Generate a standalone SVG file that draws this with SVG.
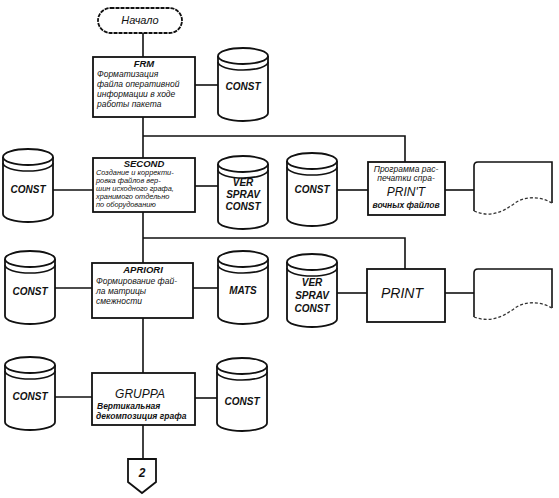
<svg xmlns="http://www.w3.org/2000/svg" xmlns:xlink="http://www.w3.org/1999/xlink" width="559" height="498" viewBox="0 0 559 498">
<style>
  .ln{fill:none;stroke:#111;stroke-width:1.6}
  .bx{fill:#fff;stroke:#111;stroke-width:1.8}
  .t{font-family:"Liberation Sans",Arial,sans-serif;font-style:italic;fill:#111}
  .s{font-size:8.5px}
  .ss{font-size:7.4px}
  .h{font-size:9.5px;font-weight:bold}
  .c{font-size:10px;font-weight:bold;text-anchor:middle}
  .m{text-anchor:middle}
  .dash{fill:none;stroke:#333;stroke-width:1.3;stroke-dasharray:3 2}
</style>
<defs>
  <g id="cyl">
    <path class="bx" d="M0,9 V66 A25,8 0 0 0 50,66 V9"/>
    <ellipse class="bx" cx="25" cy="9" rx="25" ry="8"/>
    <path class="ln" d="M0,15 A25,8 0 0 0 50,15"/>
  </g>
</defs>
<rect width="559" height="498" fill="#fff"/>
<g id="connectors">
  <path class="ln" d="M143,33 V57"/>
  <path class="ln" d="M195,85 H218"/>
  <path class="ln" d="M143,117 V158"/>
  <path class="ln" d="M143,136 H405 V162"/>
  <path class="ln" d="M53,190 H93"/>
  <path class="ln" d="M195,186 H218"/>
  <path class="ln" d="M337,190 H368"/>
  <path class="ln" d="M445,190 H474"/>
  <path class="ln" d="M143,212 V263"/>
  <path class="ln" d="M143,238 H405 V269"/>
  <path class="ln" d="M55,288 H92"/>
  <path class="ln" d="M193,288 H218"/>
  <path class="ln" d="M337,293 H367"/>
  <path class="ln" d="M445,293 H474"/>
  <path class="ln" d="M143,318 V373"/>
  <path class="ln" d="M55,397 H92"/>
  <path class="ln" d="M195,398 H217"/>
  <path class="ln" d="M143,425 V459"/>
</g>
<g id="start">
  <rect class="bx" x="98" y="8" width="84" height="25" rx="12.5" stroke-dasharray="4 1"/>
  <text class="t m" x="140" y="24" font-size="11">Начало</text>
</g>
<g id="frm">
  <rect class="bx" x="93" y="57" width="102" height="60"/>
  <text class="t h m" x="144" y="67">FRM</text>
  <text class="t s" x="97" y="77">Форматизация</text>
  <text class="t s" x="97" y="87">файла оперативной</text>
  <text class="t s" x="97" y="97">информации в ходе</text>
  <text class="t s" x="97" y="107">работы пакета</text>
</g>
<g id="const1">
  <use xlink:href="#cyl" x="218" y="47"/>
  <text class="t c" x="243" y="90">CONST</text>
</g>
<g id="second">
  <rect class="bx" x="93" y="158" width="102" height="54"/>
  <text class="t h m" x="144" y="167">SECOND</text>
  <text class="t ss" x="96" y="175">Создание и корректи-</text>
  <text class="t ss" x="96" y="183">ровка файлов вер-</text>
  <text class="t ss" x="96" y="191">шин исходного графа,</text>
  <text class="t ss" x="96" y="199">хранимого отдельно</text>
  <text class="t ss" x="96" y="207">по оборудованию</text>
</g>
<g id="const2">
  <use xlink:href="#cyl" x="3" y="148"/>
  <text class="t c" x="28" y="193">CONST</text>
</g>
<g id="versprav1">
  <use xlink:href="#cyl" x="218" y="155"/>
  <text class="t c" x="243" y="186">VER</text>
  <text class="t c" x="243" y="198">SPRAV</text>
  <text class="t c" x="243" y="210">CONST</text>
</g>
<g id="const3">
  <use xlink:href="#cyl" x="287" y="152"/>
  <text class="t c" x="312" y="193" font-size="9">CONST</text>
</g>
<g id="print1">
  <rect class="bx" x="368" y="162" width="77" height="53"/>
  <text class="t s m" x="406" y="172">Программа рас-</text>
  <text class="t s m" x="406" y="181">печатки спра-</text>
  <text class="t m" x="406" y="196" font-size="12">PRIN'T</text>
  <text class="t s m" x="406" y="208" font-weight="bold">вочных файлов</text>
</g>
<g id="doc1">
  <path class="ln" d="M474,211 V166 Q474,162 478,162 H552 V203"/>
  <path class="dash" d="M552,203 C540,196 525,196 515,203 C503,212 490,218 474,211"/>
</g>
<g id="apriori">
  <rect class="bx" x="92" y="263" width="101" height="55"/>
  <text class="t h m" x="143" y="273">APRIORI</text>
  <text class="t s" x="96" y="284">Формирование фай-</text>
  <text class="t s" x="96" y="294">ла матрицы</text>
  <text class="t s" x="96" y="304">смежности</text>
</g>
<g id="const4">
  <use xlink:href="#cyl" x="5" y="250"/>
  <text class="t c" x="30" y="295">CONST</text>
</g>
<g id="mats">
  <use xlink:href="#cyl" x="218" y="250"/>
  <text class="t c" x="243" y="294">MATS</text>
</g>
<g id="versprav2">
  <use xlink:href="#cyl" x="287" y="253"/>
  <text class="t c" x="312" y="286">VER</text>
  <text class="t c" x="312" y="299">SPRAV</text>
  <text class="t c" x="312" y="312">CONST</text>
</g>
<g id="print2">
  <rect class="bx" x="367" y="269" width="78" height="53"/>
  <text class="t m" x="402" y="298" font-size="14">PRINT</text>
</g>
<g id="doc2">
  <path class="ln" d="M474,317 V273 Q474,269 478,269 H552 V308"/>
  <path class="dash" d="M552,308 C540,301 525,301 515,308 C503,317 490,323 474,317"/>
</g>
<g id="gruppa">
  <rect class="bx" x="92" y="373" width="103" height="52"/>
  <text class="t m" x="140" y="398" font-size="12">GRUPPA</text>
  <text class="t s" x="97" y="409" font-weight="bold">Вертикальная</text>
  <text class="t s" x="96" y="419" font-weight="bold">декомпозиция графа</text>
</g>
<g id="const5">
  <use xlink:href="#cyl" x="5" y="356"/>
  <text class="t c" x="30" y="400">CONST</text>
</g>
<g id="const6">
  <use xlink:href="#cyl" x="217" y="357"/>
  <text class="t c" x="242" y="405">CONST</text>
</g>
<g id="offpage">
  <path class="bx" d="M128,459 H156 V482 L142,493 L128,482 Z"/>
  <text class="t m" x="142" y="477" font-size="12" font-weight="bold">2</text>
</g>
</svg>
